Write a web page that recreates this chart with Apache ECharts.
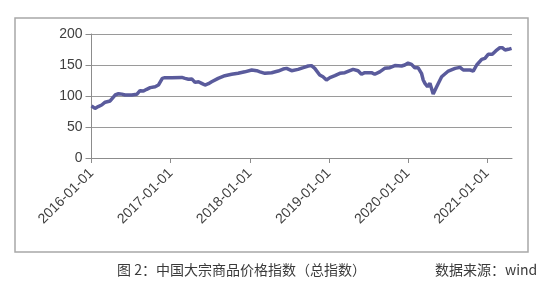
<!DOCTYPE html>
<html>
<head>
<meta charset="utf-8">
<script src="https://cdn.jsdelivr.net/npm/echarts@6/dist/echarts.min.js"></script>
<style>
html,body{margin:0;padding:0;background:#fff;}
#c{width:550px;height:290px;}
</style>
</head>
<body>
<div id="c"></div>
<script>
var dates = ["2016-01-01","2016-01-17","2016-02-01","2016-02-17","2016-03-04","2016-03-11","2016-03-27","2016-04-04","2016-04-19","2016-05-05","2016-05-20","2016-06-04","2016-06-20","2016-07-05","2016-07-28","2016-08-12","2016-08-28","2016-09-12","2016-09-28","2016-10-21","2016-11-05","2016-11-12","2016-11-23","2016-12-05","2017-01-06","2017-02-21","2017-03-08","2017-03-24","2017-04-08","2017-04-23","2017-05-09","2017-05-24","2017-06-08","2017-06-24","2017-07-09","2017-08-08","2017-09-08","2017-10-09","2017-11-08","2017-12-09","2018-01-10","2018-02-02","2018-02-17","2018-02-25","2018-03-12","2018-04-12","2018-05-12","2018-06-04","2018-06-20","2018-07-13","2018-08-12","2018-09-05","2018-09-28","2018-10-13","2018-10-28","2018-11-20","2018-12-05","2018-12-21","2019-01-06","2019-01-29","2019-02-21","2019-03-16","2019-04-23","2019-05-16","2019-06-01","2019-06-16","2019-07-17","2019-08-01","2019-08-24","2019-09-16","2019-10-10","2019-11-02","2019-12-03","2019-12-18","2020-01-02","2020-01-18","2020-02-02","2020-02-17","2020-03-04","2020-03-12","2020-03-20","2020-04-01","2020-04-12","2020-04-27","2020-05-13","2020-06-05","2020-07-06","2020-08-06","2020-08-29","2020-09-13","2020-10-14","2020-10-29","2020-11-14","2020-12-07","2020-12-22","2021-01-06","2021-01-25","2021-02-10","2021-03-01","2021-03-12","2021-03-25","2021-04-09","2021-04-24"];
var values = [84,80,83,85.5,90,93,92,93.5,101.6,103.7,103,101.6,101.6,101.6,102.7,108.6,108,110.8,113.5,115,117.7,120.4,128.5,129.6,129.6,130,128.5,127,127.6,122,123,120.4,117.7,119.9,123,128.5,132.8,135,136.6,139,141.9,140.8,139,137.6,136.6,137.6,140.3,143.5,144.6,140.8,143,145.7,148.4,149,144.6,133.9,131,125.8,129.6,132.8,136.6,137.6,143,140.8,135,137.6,137.6,135,139,144.6,145.7,149,148.4,150,153,151,145.7,145.7,136.6,125.8,120.4,115,120.4,103.2,115,131,140.3,144.6,146.2,141.9,141.9,140.3,150,159.1,160.8,167.2,167.2,172.6,177.9,177.9,174.2,175.3,176.9];
var xTicks = ["2016-01-01","2017-01-01","2018-01-01","2019-01-01","2020-01-01","2021-01-01"];
var yTicks = [0,50,100,150,200];
var xMin = "2016-01-01", xMax = "2021-04-26";
var caption = "图 2：中国大宗商品价格指数（总指数）";
var source = "数据来源：wind";

function ts(s){var p=s.split('-');return Date.UTC(+p[0],+p[1]-1,+p[2]);}
function pad(n){return n<10?'0'+n:''+n;}
function fmt(v){var d=new Date(v);return d.getUTCFullYear()+'-'+pad(d.getUTCMonth()+1)+'-'+pad(d.getUTCDate());}

var data = dates.map(function(d,i){return [ts(d), values[i]];});
var tickVals = xTicks.map(ts);

var chart = echarts.init(document.getElementById('c'), null, {renderer:'canvas'});
chart.setOption({
  animation:false,
  backgroundColor:'#fff',
  grid:{left:91.5, right:38, top:34, bottom:132, containLabel:false},
  xAxis:{
    type:'value', min:ts(xMin), max:ts(xMax), scale:true,
    axisLine:{show:true, lineStyle:{color:'#8c8c8c', width:1}},
    axisTick:{show:true, length:5, lineStyle:{color:'#8c8c8c'}, customValues:tickVals},
    axisLabel:{customValues:tickVals, rotate:45, margin:13, fontSize:14, color:'#404040',
      fontFamily:'Liberation Sans, Arial, sans-serif', formatter:function(v){return fmt(v);}, showMinLabel:true, showMaxLabel:true, hideOverlap:false},
    splitLine:{show:false}
  },
  yAxis:{
    type:'value', min:yTicks[0], max:yTicks[yTicks.length-1], interval:50,
    axisLine:{show:true, lineStyle:{color:'#8c8c8c', width:1}},
    axisTick:{show:true, length:6, lineStyle:{color:'#8c8c8c'}},
    axisLabel:{margin:9, fontSize:14, color:'#404040', fontFamily:'Liberation Sans, Arial, sans-serif'},
    splitLine:{show:true, lineStyle:{color:'#9a9a9a', width:1}}
  },
  series:[{
    type:'line', data:data, showSymbol:false, symbol:'none',
    lineStyle:{color:'#5a5b9c', width:3.5}, smooth:false
  }],
  graphic:[
    {type:'rect', shape:{x:15, y:18, width:513, height:234}, style:{fill:null, stroke:'#a8a8a8', lineWidth:1.5}, silent:true, z:-1},
    {type:'text', x:117, y:263, style:{text:caption, font:'14px "Noto Sans CJK SC", sans-serif', fill:'#3a3a3a'}},
    {type:'text', x:435, y:263, style:{text:source, font:'14px "Noto Sans CJK SC", sans-serif', fill:'#3a3a3a'}}
  ]
});
</script>
</body>
</html>
